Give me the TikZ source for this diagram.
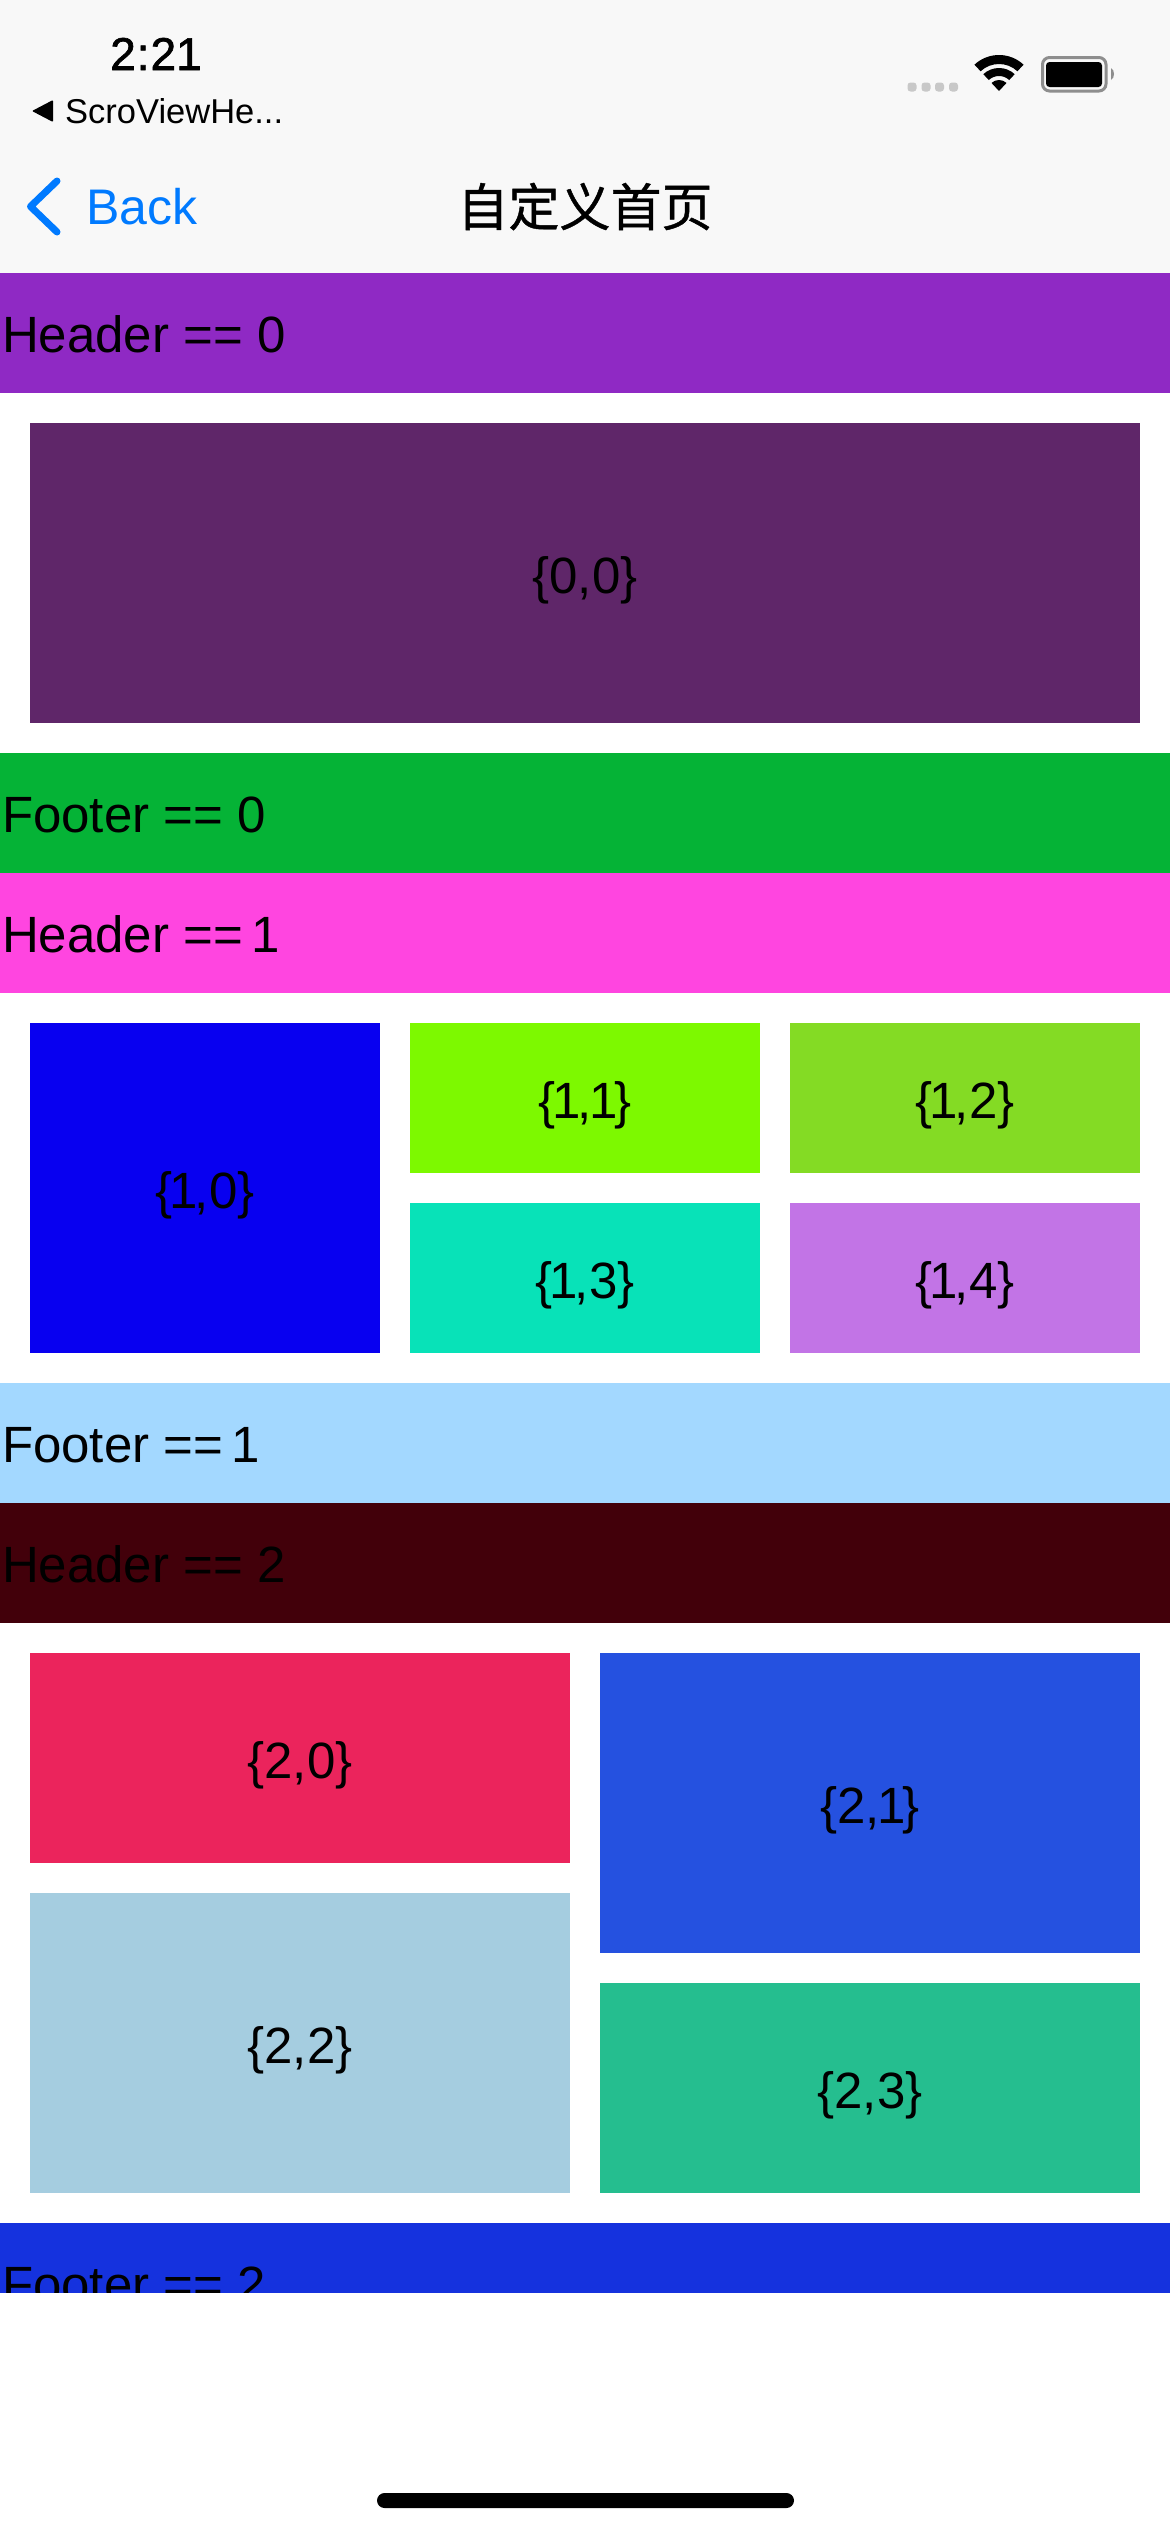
\documentclass[tikz,border=0pt]{standalone}
\usepackage{fontspec}
\setmainfont{Liberation Sans}
\newfontfamily\cjkfont[FakeBold=0.9]{Noto Sans CJK SC}
\newfontfamily\clockfont[FakeBold=1.5]{Liberation Sans}
\newcommand{\narrowone}{\kern-3pt 1\kern-3pt}
\newcommand{\bandone}{\kern-6pt 1}
\definecolor{navbg}{HTML}{F8F8F8}
\definecolor{iosblue}{HTML}{007AFF}
\definecolor{hA}{HTML}{8F29C4}
\definecolor{fA}{HTML}{05B336}
\definecolor{hB}{HTML}{FF45E0}
\definecolor{fB}{HTML}{A3D8FF}
\definecolor{hC}{HTML}{42000A}
\definecolor{fC}{HTML}{1532DE}
\definecolor{iAA}{HTML}{5F2669}
\definecolor{iBA}{HTML}{0800F0}
\definecolor{iBB}{HTML}{7DF900}
\definecolor{iBC}{HTML}{84DB24}
\definecolor{iBD}{HTML}{08E2B8}
\definecolor{iBE}{HTML}{C274E6}
\definecolor{iCA}{HTML}{EB245C}
\definecolor{iCB}{HTML}{2551E0}
\definecolor{iCC}{HTML}{A5CDE0}
\definecolor{iCD}{HTML}{25BE8F}
\definecolor{dotgrey}{HTML}{C8C8C8}
\definecolor{battgrey}{HTML}{8E8E8E}
\tikzset{
  x=1pt,y=-1pt,
  bandbox/.style={rectangle,draw=none,minimum width=1170pt,minimum height=120pt,inner sep=0pt,outer sep=0pt},
  bandtext/.style={anchor=base west,inner sep=0pt,outer sep=0pt,font=\fontsize{51}{60}\selectfont},
  cellbox/.style={rectangle,draw=none,inner sep=0pt,outer sep=0pt,text height=40pt,text depth=0pt,font=\fontsize{51}{60}\selectfont},
  cell/.style n args={3}{cellbox,fill=#1,minimum width=#2 pt,minimum height=#3 pt},
}
\begin{document}
\begin{tikzpicture}
\useasboundingbox (0,0) rectangle (1170,2532);
\fill[white] (0,0) rectangle (1170,2532);
% nav
\fill[navbg] (0,0) rectangle (1170,273);
\node[anchor=base,inner sep=0pt,font=\fontsize{46}{50}\selectfont\clockfont] (clock) at (156,70) {2\kern1pt:\kern1pt 21};
\node[anchor=base west,inner sep=0pt,font=\fontsize{34.5}{40}\selectfont] (backapp) at (65,123) {ScroViewHe...};
\fill[black,rounded corners=1pt] (32,111) -- (53,100) -- (53,122) -- cycle;
\draw[iosblue,line width=7pt,line cap=round,line join=round] (57,181) -- (30.5,206.5) -- (57,232);
\node[anchor=base west,inner sep=0pt,text=iosblue,font=\fontsize{50}{60}\selectfont] (back) at (86,224) {Back};
\node[anchor=base,inner sep=0pt,font=\fontsize{51}{60}\selectfont\cjkfont] (title) at (585,226) {自定义首页};
% status icons
\foreach \dx in {912,926,939.5,953.5} \fill[dotgrey,rounded corners=3pt] (\dx-4.5,82.5) rectangle (\dx+4.5,91.5);
\coordinate (wifi) at (999,91);
\fill (wifi) ++(-133:36) arc (-133:-47:36) -- ++(-47+180:9) arc (-47:-133:27) -- cycle;
\fill (wifi) ++(-133:23) arc (-133:-47:23) -- ++(-47+180:8) arc (-47:-133:15) -- cycle;
\fill (wifi) -- ++(-133:11) arc (-133:-47:11) -- cycle;
\draw[battgrey,line width=3pt,rounded corners=7pt] (1042.5,57.5) rectangle (1106,91);
\fill[black,rounded corners=3.5pt] (1046,62) rectangle (1102,87);
\fill[battgrey] (1111,68) .. controls (1115,70) and (1115,78) .. (1111,80) -- cycle;
% section 0
\node[bandbox,fill=hA] (h0) at (585,333) {};
\node[bandtext] (h0t) at (2,352) {Header == 0};
\node[cell={iAA}{1110}{300}] (c00) at (585,573) {\{0,0\}};
\node[bandbox,fill=fA] (f0) at (585,813) {};
\node[bandtext] (f0t) at (2,832) {Footer == 0};
% section 1
\node[bandbox,fill=hB] (h1) at (585,933) {};
\node[bandtext] (h1t) at (2,952) {Header == \bandone};
\node[cell={iBA}{350}{330}] (c10) at (205,1188) {\{\narrowone,0\}};
\node[cell={iBB}{350}{150}] (c11) at (585,1098) {\{\narrowone,\narrowone\}};
\node[cell={iBC}{350}{150}] (c12) at (965,1098) {\{\narrowone,2\}};
\node[cell={iBD}{350}{150}] (c13) at (585,1278) {\{\narrowone,3\}};
\node[cell={iBE}{350}{150}] (c14) at (965,1278) {\{\narrowone,4\}};
\node[bandbox,fill=fB] (f1) at (585,1443) {};
\node[bandtext] (f1t) at (2,1462) {Footer == \bandone};
% section 2
\node[bandbox,fill=hC] (h2) at (585,1563) {};
\node[bandtext] (h2t) at (2,1582) {Header == 2};
\node[cell={iCA}{540}{210}] (c20) at (300,1758) {\{2,0\}};
\node[cell={iCB}{540}{300}] (c21) at (870,1803) {\{2,\narrowone\}};
\node[cell={iCC}{540}{300}] (c22) at (300,2043) {\{2,2\}};
\node[cell={iCD}{540}{210}] (c23) at (870,2088) {\{2,3\}};
\begin{scope}
\clip (0,2223) rectangle (1170,2292);
\node[bandbox,fill=fC] (f2) at (585,2283) {};
\node[bandtext] (f2t) at (2,2302) {Footer == 2};
\end{scope}
% home indicator
\fill[black,rounded corners=7.5pt] (377,2493) rectangle (794,2508);
\end{tikzpicture}
\end{document}
